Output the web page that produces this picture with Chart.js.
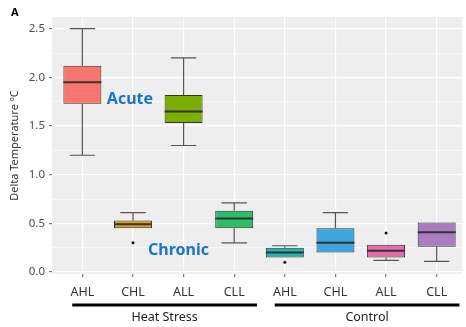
<!DOCTYPE html>
<html>
<head>
<meta charset="utf-8">
<script src="https://cdn.jsdelivr.net/npm/chart.js@4/dist/chart.umd.min.js"></script>
<style>
  body { margin: 0; background: #fff; }
  canvas { display: block; }
</style>
</head>
<body>
<canvas id="chart" width="466" height="327"></canvas>
<script>
// --------------------------- Data

const categories = ['AHL', 'CHL', 'ALL', 'CLL', 'AHL', 'CHL', 'ALL', 'CLL'];
const boxColors = ['#F8766D', '#D89E1D', '#7CAE00', '#2DBE6C', '#1FB5B0', '#3DA5E0', '#E86AAE', '#A97CC0'];

const whiskerLow  = [1.20, 0.45, 1.30, 0.30, 0.15, 0.20, 0.12, 0.11];
const q1          = [1.73, 0.45, 1.53, 0.45, 0.15, 0.20, 0.15, 0.26];
const median      = [1.95, 0.49, 1.65, 0.55, 0.20, 0.30, 0.22, 0.41];
const q3          = [2.12, 0.53, 1.82, 0.63, 0.25, 0.45, 0.28, 0.51];
const whiskerHigh = [2.50, 0.61, 2.20, 0.71, 0.27, 0.61, 0.28, 0.51];

// outliers: category index + value
const outlierIdx = [1, 4, 6];
const outlierVal = [0.30, 0.10, 0.40];

const groupLabels = ['Heat Stress', 'Control'];
const groupFirst = [0, 4];
const groupLast = [3, 7];

const yTicks = [0, 0.25, 0.5, 0.75, 1.0, 1.25, 1.5, 1.75, 2.0, 2.25, 2.5];

const notes = ['Acute', 'Chronic'];
const noteX = [0.94, 1.9];
const noteY = [1.77, 0.22];

// --------------------------- Helpers

const FONT = "'Noto Sans', 'DejaVu Sans', sans-serif";

function isMajor(v) {
    return Math.abs(v * 2 - Math.round(v * 2)) < 1e-6;
}

// panel background, whiskers, medians, group bars and text
const boxplotPlugin = {
    id: 'boxplot',
    beforeDraw(chart) {
        const a = chart.chartArea;
        const ctx = chart.ctx;
        ctx.save();
        ctx.fillStyle = '#EEEEEE';
        ctx.fillRect(a.left, a.top, a.right - a.left, a.bottom - a.top);
        ctx.restore();
    },
    beforeDatasetsDraw(chart) {
        const x = chart.scales.x, y = chart.scales.y;
        const ctx = chart.ctx;
        const cap = (x.getPixelForValue(0.25) - x.getPixelForValue(0));
        ctx.save();
        ctx.strokeStyle = '#555';
        ctx.lineWidth = 1.2;
        categories.forEach((c, i) => {
            const px = x.getPixelForValue(i);
            ctx.beginPath();
            ctx.moveTo(px, y.getPixelForValue(whiskerLow[i]));
            ctx.lineTo(px, y.getPixelForValue(q1[i]));
            ctx.moveTo(px, y.getPixelForValue(q3[i]));
            ctx.lineTo(px, y.getPixelForValue(whiskerHigh[i]));
            if (whiskerHigh[i] > q3[i]) {
                const py = y.getPixelForValue(whiskerHigh[i]);
                ctx.moveTo(px - cap, py);
                ctx.lineTo(px + cap, py);
            }
            if (whiskerLow[i] < q1[i]) {
                const py = y.getPixelForValue(whiskerLow[i]);
                ctx.moveTo(px - cap, py);
                ctx.lineTo(px + cap, py);
            }
            ctx.stroke();
        });
        ctx.restore();
    },
    afterDatasetsDraw(chart) {
        const x = chart.scales.x, y = chart.scales.y;
        const ctx = chart.ctx;
        const half = (x.getPixelForValue(0.375) - x.getPixelForValue(0));
        ctx.save();
        ctx.strokeStyle = '#333';
        ctx.lineWidth = 2;
        categories.forEach((c, i) => {
            const px = x.getPixelForValue(i);
            const py = y.getPixelForValue(median[i]);
            ctx.beginPath();
            ctx.moveTo(px - half, py);
            ctx.lineTo(px + half, py);
            ctx.stroke();
        });

        // Acute / Chronic notes
        ctx.fillStyle = '#1874CD';
        ctx.font = 'bold 16px ' + FONT;
        ctx.textAlign = 'center';
        ctx.textBaseline = 'middle';
        notes.forEach((n, i) => {
            ctx.fillText(n, x.getPixelForValue(noteX[i]), y.getPixelForValue(noteY[i]));
        });
        ctx.restore();
    },
    afterDraw(chart) {
        const x = chart.scales.x;
        const ctx = chart.ctx;
        const lineY = chart.chartArea.bottom + 31;
        ctx.save();
        ctx.strokeStyle = '#000';
        ctx.lineWidth = 3;
        ctx.fillStyle = '#222';
        ctx.font = '12.5px ' + FONT;
        ctx.textAlign = 'center';
        ctx.textBaseline = 'middle';
        groupLabels.forEach((g, i) => {
            const x0 = x.getPixelForValue(groupFirst[i] - 0.2);
            const x1 = x.getPixelForValue(groupLast[i] + 0.45);
            ctx.beginPath();
            ctx.moveTo(x0, lineY);
            ctx.lineTo(x1, lineY);
            ctx.stroke();
            ctx.fillText(g, (x0 + x1) / 2, lineY + 12);
        });

        // panel tag
        ctx.font = 'bold 11px ' + FONT;
        ctx.fillStyle = '#000';
        ctx.textAlign = 'left';
        ctx.fillText('A', 11, 13);
        ctx.restore();
    }
};

// --------------------------- Chart

const ctx = document.getElementById('chart');

new Chart(ctx, {
    type: 'bar',
    data: {
        datasets: [
            {
                type: 'bar',
                data: categories.map((c, i) => ({ x: i, y: [q1[i], q3[i]] })),
                backgroundColor: boxColors,
                borderColor: '#333',
                borderWidth: 1,
                borderSkipped: false,
                barPercentage: 0.75,
                categoryPercentage: 1.0,
            },
            {
                type: 'scatter',
                data: outlierIdx.map((idx, i) => ({ x: idx, y: outlierVal[i] })),
                pointRadius: 1.5,
                pointBackgroundColor: '#111',
                pointBorderWidth: 0,
            }
        ]
    },
    options: {
        responsive: false,
        animation: false,
        events: [],
        layout: {
            padding: { top: 17, right: 0, left: 0, bottom: 0 }
        },
        plugins: {
            legend: { display: false },
            tooltip: { enabled: false },
        },
        scales: {
            x: {
                type: 'linear',
                offset: false,
                min: -0.6,
                max: 7.5,
                afterBuildTicks: (scale) => {
                    scale.ticks = categories.map((c, i) => ({ value: i }));
                },
                afterFit: (scale) => { scale.height = 53; },
                ticks: {
                    callback: (v) => categories[v],
                    color: '#333',
                    font: { family: FONT, size: 12.5 },
                    padding: 8,
                    maxRotation: 0,
                    autoSkip: false,
                },
                grid: {
                    offset: false,
                    color: '#ffffff',
                    lineWidth: 1.2,
                    tickColor: '#777',
                    tickLength: 3,
                },
                border: { display: false },
            },
            y: {
                min: -0.02,
                max: 2.62,
                afterBuildTicks: (scale) => {
                    scale.ticks = yTicks.map(v => ({ value: v }));
                },
                afterFit: (scale) => { scale.width = 52; },
                ticks: {
                    callback: (v) => isMajor(v) ? v.toFixed(1) : '',
                    color: '#4D4D4D',
                    font: { family: FONT, size: 11.5 },
                    padding: 4,
                    autoSkip: false,
                },
                grid: {
                    color: '#ffffff',
                    lineWidth: (c) => isMajor(c.tick.value) ? 1.2 : 0.6,
                    tickColor: (c) => isMajor(c.tick.value) ? '#777' : 'rgba(0,0,0,0)',
                    tickLength: 3,
                },
                border: { display: false },
                title: {
                    display: true,
                    text: 'Delta Temperature ºC',
                    color: '#333',
                    font: { family: FONT, size: 11 },
                    padding: { top: 8, bottom: 0 },
                }
            }
        }
    },
    plugins: [boxplotPlugin]
});
</script>
</body>
</html>
